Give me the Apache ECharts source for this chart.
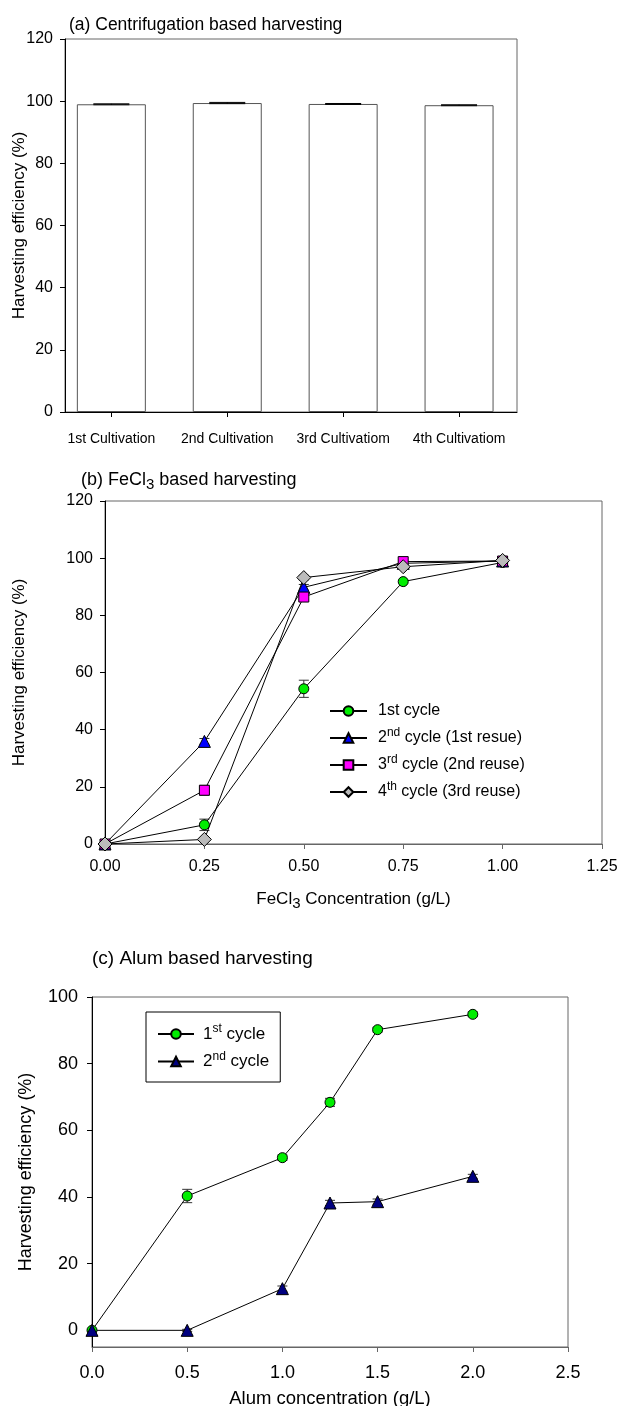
<!DOCTYPE html>
<html>
<head>
<meta charset="utf-8">
<script src="https://cdn.jsdelivr.net/npm/echarts@6/dist/echarts.min.js"></script>
<style>html,body{margin:0;padding:0;background:#fff;}#chart{width:619px;height:1406px;}</style>
</head>
<body>
<div id="chart"></div>
<script>
// ---- Panel (a) data ----
const aCategories = ['1st Cultivation', '2nd Cultivation', '3rd Cultivatiom', '4th Cultivatiom'];
const aPositions = [1, 2, 3, 4];
const aValues = [99.0, 99.4, 99.1, 98.7];
const aErrors = [0.15, 0.2, 0.15, 0.15];
const aYTicks = [0, 20, 40, 60, 80, 100, 120];

// ---- Panel (b) data ----
const bX = [0, 0.25, 0.5, 0.75, 1.0];
const b1 = [0, 6.7, 54.3, 91.8, 98.5];
const b1Err = [0.3, 2.0, 3.0, 0.5, 0.5];
const b2 = [0, 35.9, 89.8, 98.2, 99.0];
const b2Err = [0.3, 1.0, 1.0, 0.5, 0.5];
const b3 = [0, 18.8, 86.4, 98.8, 99.0];
const b3Err = [0.3, 1.7, 1.0, 0.5, 0.5];
const b4 = [0, 1.6, 93.2, 97.0, 99.2];
const b4Err = [0.3, 0.5, 0.8, 0.5, 0.5];

// ---- Panel (c) data ----
const cX = [0, 0.5, 1.0, 1.25, 1.5, 2.0];
const c1 = [0, 40.3, 51.8, 68.4, 90.2, 94.8];
const c1Err = [0.3, 2.0, 0.8, 1.2, 0.7, 0.7];
const c2 = [0, 0, 12.5, 38.2, 38.6, 46.2];
const c2Err = [0.3, 0.3, 0.8, 0.8, 0.8, 0.6];
const cYTicks = [0, 20, 40, 60, 80, 100];

const FONT = 'Liberation Sans, Arial, sans-serif';

function pairs(xs, ys) { return xs.map((x, i) => [x, ys[i]]); }
function errData(xs, ys, es) { return xs.map((x, i) => [x, ys[i] - es[i], ys[i] + es[i]]); }

function makeErrRender(w, color) {
  return function (params, api) {
    const x = api.value(0), lo = api.value(1), hi = api.value(2);
    const p1 = api.coord([x, lo]), p2 = api.coord([x, hi]);
    const st = { stroke: color, lineWidth: 1 };
    return {
      type: 'group',
      children: [
        { type: 'line', shape: { x1: p1[0], y1: p1[1], x2: p2[0], y2: p2[1] }, style: st },
        { type: 'line', shape: { x1: p1[0] - w, y1: p1[1], x2: p1[0] + w, y2: p1[1] }, style: st },
        { type: 'line', shape: { x1: p2[0] - w, y1: p2[1], x2: p2[0] + w, y2: p2[1] }, style: st }
      ]
    };
  };
}

function supRich(fs, gap) {
  return {
    g: { width: gap, fontSize: fs },
    n: { fontSize: fs, fontFamily: FONT, color: '#000' },
    sup: { fontSize: Math.round(fs * 0.72), fontFamily: FONT, color: '#000', padding: [0, 0, Math.round(fs * 0.6), 0] }
  };
}
function subRich(fs, subFs) {
  return {
    n: { fontSize: fs, fontFamily: FONT, color: '#000' },
    sub: { fontSize: subFs, fontFamily: FONT, color: '#000', padding: [Math.round(fs * 0.45), 0, 0, 0] }
  };
}

const legendNames = {
  'b1': '{g| }{n|1st cycle}',
  'b2': '{g| }{n|2}{sup|nd}{n| cycle (1st resue)}',
  'b3': '{g| }{n|3}{sup|rd}{n| cycle (2nd reuse)}',
  'b4': '{g| }{n|4}{sup|th}{n| cycle (3rd reuse)}',
  'c1': '{g| }{n|1}{sup|st}{n| cycle}',
  'c2': '{g| }{n|2}{sup|nd}{n| cycle}'
};

function yAxisCommon(gridIndex, min, max, ticks, nameGap, nameFs, tickFs, margin) {
  return {
    type: 'value', gridIndex: gridIndex, min: min, max: max,
    name: 'Harvesting efficiency (%)', nameLocation: 'middle', nameGap: nameGap, nameMoveOverlap: false,
    nameTextStyle: { color: '#000', fontSize: nameFs, fontFamily: FONT },
    axisLine: { show: true, lineStyle: { color: '#000', width: 1 } },
    axisTick: { show: true, inside: false, length: 5, customValues: ticks, lineStyle: { color: '#000' } },
    axisLabel: { customValues: ticks, margin: margin, color: '#000', fontSize: tickFs, fontFamily: FONT },
    splitLine: { show: false }
  };
}

function lineSeries(name, xi, yi, xs, ys, symbol, size, color) {
  return {
    name: name, type: 'line', xAxisIndex: xi, yAxisIndex: yi,
    data: pairs(xs, ys), symbol: symbol, symbolSize: size, z: 3,
    lineStyle: { color: '#000', width: 1 },
    itemStyle: { color: color, borderColor: '#000', borderWidth: 1 },
    emphasis: { disabled: true }, animation: false
  };
}
function errSeries(xi, yi, xs, ys, es) {
  return {
    type: 'custom', xAxisIndex: xi, yAxisIndex: yi, z: 2,
    renderItem: makeErrRender(5, '#333'), data: errData(xs, ys, es), animation: false, silent: true
  };
}

const gridCommon = { show: true, borderColor: '#666', borderWidth: 1, containLabel: false, outerBoundsMode: 'none' };

const option = {
  animation: false,
  backgroundColor: '#fff',
  textStyle: { fontFamily: FONT },
  title: [
    { text: '(a) Centrifugation based harvesting', left: 64, top: 11, textStyle: { fontSize: 17.5, fontWeight: 'normal', color: '#000', fontFamily: FONT } },
    { text: '{n|(b) FeCl}{sub|3}{n| based harvesting}', left: 76, top: 464, textStyle: { fontSize: 18, fontWeight: 'normal', color: '#000', fontFamily: FONT, rich: subRich(18, 15) } },
    { text: '(c) Alum based harvesting', left: 87, top: 944, textStyle: { fontSize: 19, fontWeight: 'normal', color: '#000', fontFamily: FONT } }
  ],
  grid: [
    Object.assign({ left: 65, top: 39, width: 452, height: 373 }, gridCommon),
    Object.assign({ left: 105, top: 501, width: 497, height: 343 }, gridCommon),
    Object.assign({ left: 92, top: 997, width: 476, height: 350 }, gridCommon)
  ],
  xAxis: [
    {
      type: 'value', gridIndex: 0, min: 0.6, max: 4.5,
      axisLine: { show: true, onZero: false, lineStyle: { color: '#000' } },
      axisTick: { show: true, length: 5, customValues: aPositions, lineStyle: { color: '#000' } },
      axisLabel: { customValues: aPositions, margin: 20, fontSize: 14, color: '#000', fontFamily: FONT, formatter: v => aCategories[Math.round(v) - 1] || '' },
      splitLine: { show: false }
    },
    {
      type: 'value', gridIndex: 1, min: 0, max: 1.25, interval: 0.25,
      name: '{n|FeCl}{sub|3}{n| Concentration (g/L)}', nameLocation: 'middle', nameGap: 44, nameMoveOverlap: false,
      nameTextStyle: { rich: subRich(17, 15) },
      axisLine: { show: true, onZero: false, lineStyle: { color: '#666' } },
      axisTick: { show: true, length: 5, lineStyle: { color: '#666' } },
      axisLabel: { margin: 15, color: '#000', fontSize: 16, fontFamily: FONT, formatter: v => v.toFixed(2) },
      splitLine: { show: false }
    },
    {
      type: 'value', gridIndex: 2, min: 0, max: 2.5, interval: 0.5,
      name: 'Alum concentration (g/L)', nameLocation: 'middle', nameGap: 42, nameMoveOverlap: false,
      nameTextStyle: { color: '#000', fontSize: 18.5, fontFamily: FONT },
      axisLine: { show: true, onZero: false, lineStyle: { color: '#666' } },
      axisTick: { show: true, length: 5, lineStyle: { color: '#666' } },
      axisLabel: { margin: 17, color: '#000', fontSize: 18, fontFamily: FONT, formatter: v => v.toFixed(1) },
      splitLine: { show: false }
    }
  ],
  yAxis: [
    yAxisCommon(0, 0, 120, aYTicks, 37, 17, 16, 12),
    yAxisCommon(1, 0, 120, aYTicks, 77, 17, 16, 12),
    yAxisCommon(2, -5, 100, cYTicks, 57, 18, 18, 14)
  ],
  legend: [
    {
      orient: 'vertical', left: 329, top: 703, padding: 0, itemWidth: 37, itemHeight: 12, itemGap: 8,
      data: ['b1', 'b2', 'b3', 'b4'], formatter: n => legendNames[n],
      textStyle: { rich: supRich(16, 6), fontSize: 16, fontFamily: FONT }, selectedMode: false
    },
    {
      orient: 'vertical', left: 146, top: 1012, itemWidth: 36, itemHeight: 12, itemGap: 8,
      padding: [11, 11, 12, 11], borderColor: '#000', borderWidth: 1,
      data: ['c1', 'c2'], formatter: n => legendNames[n],
      textStyle: { rich: supRich(17, 4), fontSize: 17, fontFamily: FONT }, selectedMode: false
    }
  ],
  series: [
    {
      type: 'bar', xAxisIndex: 0, yAxisIndex: 0, barWidth: 69,
      data: pairs(aPositions, aValues),
      itemStyle: { color: '#fff', borderColor: '#555', borderWidth: 1 },
      emphasis: { disabled: true }, animation: false, z: 2
    },
    {
      type: 'custom', xAxisIndex: 0, yAxisIndex: 0, z: 3, silent: true,
      renderItem: makeErrRender(18, '#000'),
      data: errData(aPositions, aValues, aErrors)
    },
    errSeries(1, 1, bX, b1, b1Err),
    errSeries(1, 1, bX, b2, b2Err),
    errSeries(1, 1, bX, b3, b3Err),
    errSeries(1, 1, bX, b4, b4Err),
    lineSeries('b1', 1, 1, bX, b1, 'circle', 10, '#00ee00'),
    lineSeries('b2', 1, 1, bX, b2, 'triangle', 12, '#0000ff'),
    lineSeries('b3', 1, 1, bX, b3, 'rect', 10, '#ff00ff'),
    lineSeries('b4', 1, 1, bX, b4, 'diamond', 14, '#bbbbbb'),
    errSeries(2, 2, cX, c1, c1Err),
    errSeries(2, 2, cX, c2, c2Err),
    lineSeries('c1', 2, 2, cX, c1, 'circle', 10, '#00ee00'),
    lineSeries('c2', 2, 2, cX, c2, 'triangle', 12, '#000080')
  ]
};

const chart = echarts.init(document.getElementById('chart'), null, { renderer: 'canvas' });
chart.setOption(option);
</script>
</body>
</html>
